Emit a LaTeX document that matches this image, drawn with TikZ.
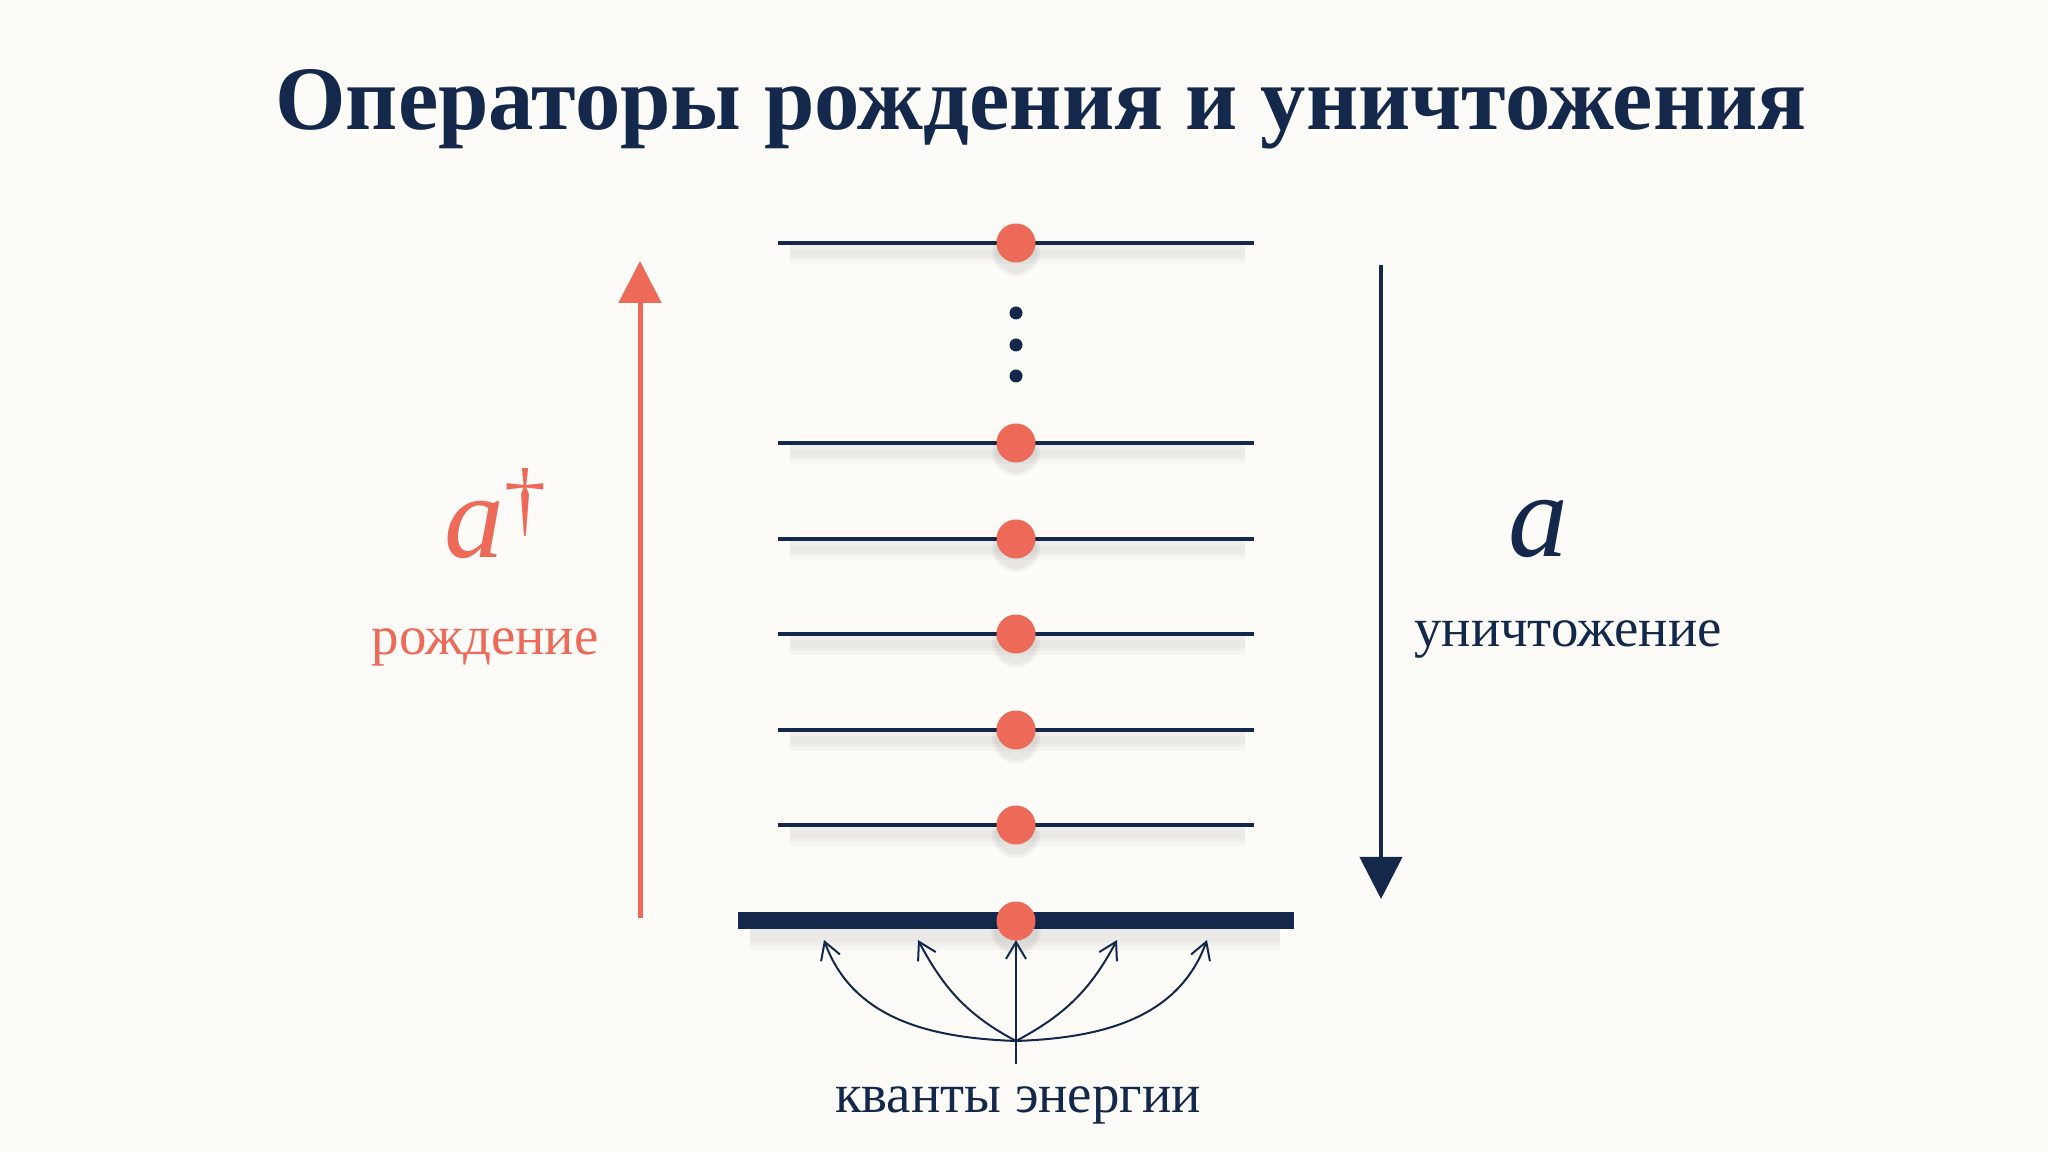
\documentclass[tikz,border=0pt]{standalone}
\usepackage{fontspec}
\setmainfont{Liberation Serif}
\usetikzlibrary{arrows.meta,positioning}
\definecolor{navy}{HTML}{14284B}
\definecolor{coral}{HTML}{EE6A58}
\definecolor{paper}{HTML}{FCFBF8}

\begin{document}
\begin{tikzpicture}[
    level/.style={navy, line width=0.035cm},
    shadeline/.style={black, opacity=0.025, line width=#1},
    quantum/.style={circle, fill=coral, inner sep=0pt, minimum size=0.39cm},
    halo/.style={circle, fill=black, opacity=0.04, inner sep=0pt, minimum size=#1},
    ellip/.style={circle, fill=navy, inner sep=0pt, minimum size=0.13cm},
    caption/.style={anchor=base, inner sep=0pt, font=\fontsize{15.6}{18}\selectfont},
    opname/.style={anchor=base, inner sep=0pt, font=\fontsize{34}{40}\selectfont\itshape},
    quanta/.style={navy, line width=0.02cm, -{Straight Barb[length=0.17cm,width=0.2cm]}}
]
    % background and frame
    \fill[paper] (0,0) rectangle (20.48,11.52);
    \useasboundingbox (0,0) rectangle (20.48,11.52);

    \node[anchor=base, inner sep=0pt, text=navy,
          font=\bfseries\fontsize{25.8}{30}\selectfont] (title) at (10.41,10.22)
          {Операторы рождения и уничтожения};

    % ground level
    \foreach \w in {0.28,0.2,0.12}
        \draw[shadeline=\w cm] (7.5,2.16) -- (12.8,2.16);
    \draw[navy, line width=0.17cm] (7.38,2.31) coordinate (g0) -- (12.94,2.31) coordinate (g1);
    \foreach \s in {0.5,0.44}
        \node[halo=\s cm] at (10.16,2.22) {};
    \node[quantum] (p0) at (10.16,2.31) {};

    % excited levels
    \foreach \n/\y in {1/3.27,2/4.22,3/5.18,4/6.13,5/7.09,6/9.09} {
        \foreach \w in {0.22,0.15,0.08}
            \draw[shadeline=\w cm] (7.9,\y-0.1) -- (12.45,\y-0.1);
        \draw[level] (7.78,\y) coordinate (l\n) -- (12.54,\y) coordinate (r\n);
        \foreach \s in {0.48,0.42}
            \node[halo=\s cm] at (10.16,\y-0.09) {};
        \node[quantum] (p\n) at (10.16,\y) {};
    }
    \foreach \y [count=\i] in {8.39,8.07,7.76}
        \node[ellip] (d\i) at (10.16,\y) {};

    % creation
    \coordinate (up0) at (6.40,2.34);
    \coordinate (up1) at (6.40,8.91);
    \draw[coral, line width=0.05cm, -{Triangle[width=0.42cm,length=0.42cm]}] (up0) -- (up1);
    \node[opname, text=coral] (adag) at (4.96,5.94) {a\textsuperscript{\upshape †}};
    \node[caption, text=coral] (create) at (4.85,4.97) {рождение};

    % annihilation
    \coordinate (dn0) at (13.81,8.87);
    \coordinate (dn1) at (13.81,2.53);
    \draw[navy, line width=0.04cm, -{Triangle[width=0.42cm,length=0.42cm]}] (dn0) -- (dn1);
    \node[opname, text=navy] (anni) at (15.38,5.95) {a};
    \node[caption, text=navy] (destroy) at (15.68,5.05) {уничтожение};

    % energy quanta
    \coordinate (src) at (10.16,1.11);
    \coordinate (tail) at (10.16,0.88);
    \foreach \x [count=\i] in {8.24,9.18,10.16,11.17,12.07}
        \coordinate (t\i) at (\x,2.12);
    \draw[quanta] (src) to[out=178,in=-70] (t1);
    \draw[quanta] (src) to[out=152,in=-62] (t2);
    \draw[quanta] (tail) -- (t3);
    \draw[quanta] (src) to[out=28,in=-118] (t4);
    \draw[quanta] (src) to[out=2,in=-110] (t5);
    \node[caption, text=navy] (qlabel) at (10.18,0.39) {кванты энергии};
\end{tikzpicture}
\end{document}
